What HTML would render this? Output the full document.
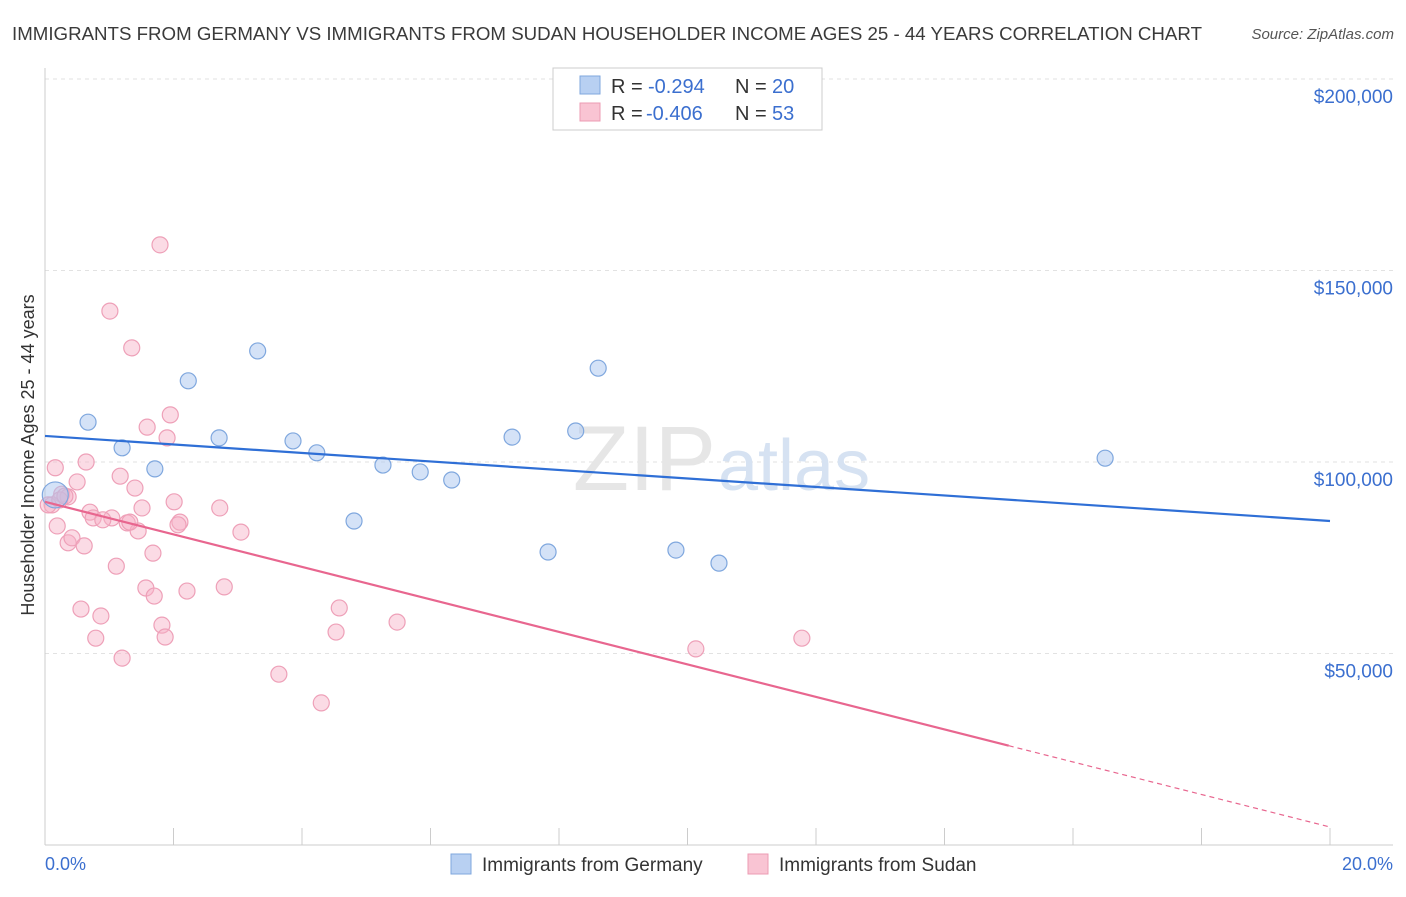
<!DOCTYPE html>
<html><head><meta charset="utf-8"><style>
body{margin:0;background:#fff;font-family:"Liberation Sans",sans-serif}
svg text{font-family:"Liberation Sans",sans-serif}
</style></head><body>
<svg id="c" width="1406" height="892" xmlns="http://www.w3.org/2000/svg">
<text x="12" y="40" font-size="18.5" fill="#3a3a3a" textLength="1190" lengthAdjust="spacingAndGlyphs">IMMIGRANTS FROM GERMANY VS IMMIGRANTS FROM SUDAN HOUSEHOLDER INCOME AGES 25 - 44 YEARS CORRELATION CHART</text>
<text x="1394" y="39" font-size="15" fill="#555" text-anchor="end" font-style="italic">Source: ZipAtlas.com</text>
<g id="grid"></g>
<text x="716" y="490" font-size="92" fill="#e6e6e6" text-anchor="end" font-family="Liberation Serif">ZIP</text>
<text x="718" y="490" font-size="72" fill="#d6e2f2">atlas</text>
<text transform="translate(34,455) rotate(-90)" font-size="18" fill="#333" text-anchor="middle">Householder Income Ages 25 - 44 years</text>
<g id="marks"></g>
<g>
<rect x="553" y="68" width="269" height="62" fill="#fff" stroke="#ccc"/>
<rect x="580" y="76" width="20" height="18" fill="#b8d0f2" stroke="#7fa7de"/>
<rect x="580" y="103" width="20" height="18" fill="#f9c4d3" stroke="#ec9bb3"/>
<text x="611" y="93" font-size="20" fill="#333">R =</text>
<text x="648" y="93" font-size="20" fill="#3b6fcf">-0.294</text>
<text x="735" y="93" font-size="20" fill="#333">N =</text>
<text x="772" y="93" font-size="20" fill="#3b6fcf">20</text>
<text x="611" y="120" font-size="20" fill="#333">R =</text>
<text x="646" y="120" font-size="20" fill="#3b6fcf">-0.406</text>
<text x="735" y="120" font-size="20" fill="#333">N =</text>
<text x="772" y="120" font-size="20" fill="#3b6fcf">53</text>
</g>
<g>
<rect x="451" y="854" width="20" height="20" fill="#b8d0f2" stroke="#7fa7de"/>
<text x="482" y="871" font-size="19" fill="#333">Immigrants from Germany</text>
<rect x="748" y="854" width="20" height="20" fill="#f9c4d3" stroke="#ec9bb3"/>
<text x="779" y="871" font-size="19" fill="#333">Immigrants from Sudan</text>
</g>
<text x="45" y="870" font-size="18" fill="#3b6fcf">0.0%</text>
<text x="1393" y="870" font-size="18" fill="#3b6fcf" text-anchor="end">20.0%</text>
</svg>
<script>
const yTicks=[50000,100000,150000,200000];
const yTickLabels=["$50,000","$100,000","$150,000","$200,000"];
const germanyX=[0.67,1.20,1.71,2.23,2.71,3.31,3.86,4.23,4.81,5.26,5.84,6.33,7.27,7.83,8.26,8.61,9.82,10.49,16.50,0.16];
const germanyY=[110400,103700,98200,121200,106300,129000,105500,102400,84600,99200,97400,95300,106500,76500,108100,124500,77000,73600,101000,91400];
const sudanX=[1.79,1.01,1.35,1.95,1.59,1.90,0.16,0.64,1.17,0.50,0.26,0.36,1.40,2.01,2.72,1.51,0.11,0.70,0.75,1.04,1.28,1.45,2.10,2.07,3.05,0.19,0.36,0.42,0.61,1.68,1.11,1.57,1.70,2.21,2.79,0.56,0.87,1.82,4.58,5.48,0.79,1.87,4.53,11.78,10.13,1.20,3.64,4.30,0.05,0.23,0.90,1.32,0.31];
const sudanY=[156700,139400,129800,112300,109100,106300,98500,100000,96300,94800,91600,90900,93200,89600,88000,88000,88800,86900,85400,85400,84100,82000,84300,83600,81700,83300,78900,80200,78100,76200,72800,67100,65000,66300,67400,61600,59800,57400,61900,58200,54000,54300,55600,54000,51200,48800,44600,37100,88800,90100,84900,84300,91100];
const germanyTrend=[106800,84600];
const sudanTrend=[89600,4700];
const sudanSolidEnd=15.0;
const NS="http://www.w3.org/2000/svg";
const X=p=>45+p/20*1285, Y=v=>845-v/50000*191.5;
function mk(tag,attrs,parent){const e=document.createElementNS(NS,tag);for(const k in attrs)e.setAttribute(k,attrs[k]);parent.appendChild(e);return e;}
const grid=document.getElementById('grid'), marks=document.getElementById('marks'), svg=document.getElementById('c');
yTicks.forEach((v,i)=>{
 const l=mk('line',{x1:45,x2:1393,y1:Y(v),y2:Y(v),stroke:'#e2e2e2','stroke-dasharray':'4,4'},grid);
 
 
 const t=mk('text',{x:1393,y:Y(v)+24,'font-size':19,fill:'#3b6fcf','text-anchor':'end'},svg);
 t.textContent=yTickLabels[i];
 
 
});
const topLine=mk('line',{x1:45,x2:1393,y1:79,y2:79,stroke:'#e2e2e2','stroke-dasharray':'4,4'},grid);


const ya=mk('line',{x1:45,x2:45,y1:68,y2:845,stroke:'#ccc'},grid);


const xa=mk('line',{x1:45,x2:1393,y1:845,y2:845,stroke:'#ccc'},grid);


for(let p=0;p<=20;p+=2){const t=mk('line',{x1:X(p),x2:X(p),y1:828,y2:845,stroke:'#ccc'},grid);
 
 }
sudanX.forEach((x,i)=>{const c=mk('circle',{cx:X(x),cy:Y(sudanY[i]),r:8,fill:'rgba(246,176,198,0.45)',stroke:'#eea0b8','stroke-width':1.2},marks);
 
 });
germanyX.forEach((x,i)=>{const c=mk('circle',{cx:X(x),cy:Y(germanyY[i]),r:i==19?13:8,fill:'rgba(170,198,240,0.5)',stroke:'#7fa7de','stroke-width':1.2},marks);
 
 });
const gl=mk('line',{x1:X(0),y1:Y(germanyTrend[0]),x2:X(20),y2:Y(germanyTrend[1]),stroke:'#2f6fd6','stroke-width':2.2},marks);


const sv=v=>sudanTrend[0]+(sudanTrend[1]-sudanTrend[0])*v/20;
const sl=mk('line',{x1:X(0),y1:Y(sv(0)),x2:X(sudanSolidEnd),y2:Y(sv(sudanSolidEnd)),stroke:'#e8668f','stroke-width':2.2},marks);


const sd=mk('line',{x1:X(sudanSolidEnd),y1:Y(sv(sudanSolidEnd)),x2:X(20),y2:Y(sv(20)),stroke:'#e8668f','stroke-width':1.2,'stroke-dasharray':'5,4'},marks);


</script>
</body></html>
